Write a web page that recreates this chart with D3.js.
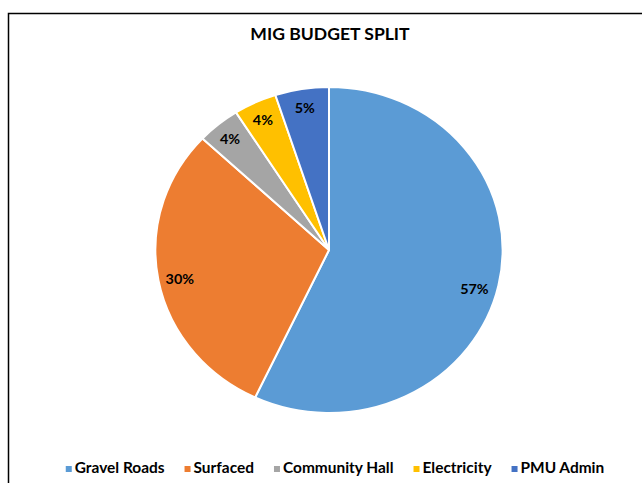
<!DOCTYPE html>
<html>
<head>
<meta charset="utf-8">
<script src="https://cdn.jsdelivr.net/npm/d3@7"></script>
<style>
  html, body { margin: 0; padding: 0; background: #fff; }
  svg { display: block; }
  text { font-family: Lato, "Open Sans", sans-serif; font-weight: bold; }
</style>
</head>
<body>
<svg id="chart" width="642" height="483"></svg>
<script>
// Budget split by project category (percent)
const categories = ["Gravel Roads", "Surfaced", "Community Hall", "Electricity", "PMU Admin"];
const shares = [57, 30, 4, 4, 5];
const colors = ["#5B9BD5", "#ED7D31", "#A5A5A5", "#FFC000", "#4472C4"];

const W = 642, H = 483;
const sx = 1.065; // horizontal stretch of the whole drawing
const svg = d3.select("#chart");

// chart area frame
svg.append("path")
  .attr("d", "M8.5,483 L8.5,13.5 L642,13.5")
  .attr("fill", "none")
  .attr("stroke", "#000")
  .attr("stroke-width", 1.5);

svg.append("text")
  .attr("transform", `translate(330,40) scale(${sx},1)`)
  .attr("text-anchor", "middle")
  .attr("font-size", 16.5)
  .attr("fill", "#000")
  .text("MIG BUDGET SPLIT");

const cx = 329, cy = 250, R = 163;
const data = categories.map((c, i) => ({ name: c, value: shares[i], color: colors[i] }));

const pie = d3.pie().value(d => d.value).sort(null);
const arcs = pie(data);
const arc = d3.arc().innerRadius(0).outerRadius(R);

const g = svg.append("g").attr("transform", `translate(${cx},${cy}) scale(${sx},1)`);
g.selectAll("path")
  .data(arcs)
  .join("path")
  .attr("d", arc)
  .attr("fill", d => d.data.color)
  .attr("stroke", "#fff")
  .attr("stroke-width", 2)
  .attr("vector-effect", "non-scaling-stroke")
  .attr("stroke-linejoin", "round");

// data labels, pushed toward the rim for the thin slices
const labels = svg.append("g").attr("transform", `translate(${cx},${cy})`);
labels.selectAll("text")
  .data(arcs)
  .join("text")
  .attr("transform", d => {
    const f = d.data.value > 40 ? 0.868 : (d.data.value > 20 ? 0.875 : 0.895);
    const a = (d.startAngle + d.endAngle) / 2 + (d.data.value > 40 ? 0.045 : 0);
    const r = R * f;
    return `translate(${Math.sin(a) * r * sx},${-Math.cos(a) * r + 2}) scale(${sx},1)`;
  })
  .attr("text-anchor", "middle")
  .attr("dy", "0.36em")
  .attr("font-size", 13.5)
  .attr("fill", "#000")
  .text(d => d.data.value + "%");

// legend
const legend = svg.append("g");
const items = legend.selectAll("g").data(data).join("g");
items.append("rect")
  .attr("width", 6).attr("height", 6)
  .attr("y", -7)
  .attr("fill", d => d.color);
items.append("text")
  .attr("transform", `translate(9,0) scale(${sx},1)`)
  .attr("font-size", 14.5)
  .attr("fill", "#000")
  .text(d => d.name);
let x = 0;
items.each(function () {
  d3.select(this).attr("transform", `translate(${x},0)`);
  x += 9 + this.querySelector("text").getComputedTextLength() * sx + 20;
});
const total = x - 20;
legend.attr("transform", `translate(${335 - total / 2},473)`);
</script>
</body>
</html>
